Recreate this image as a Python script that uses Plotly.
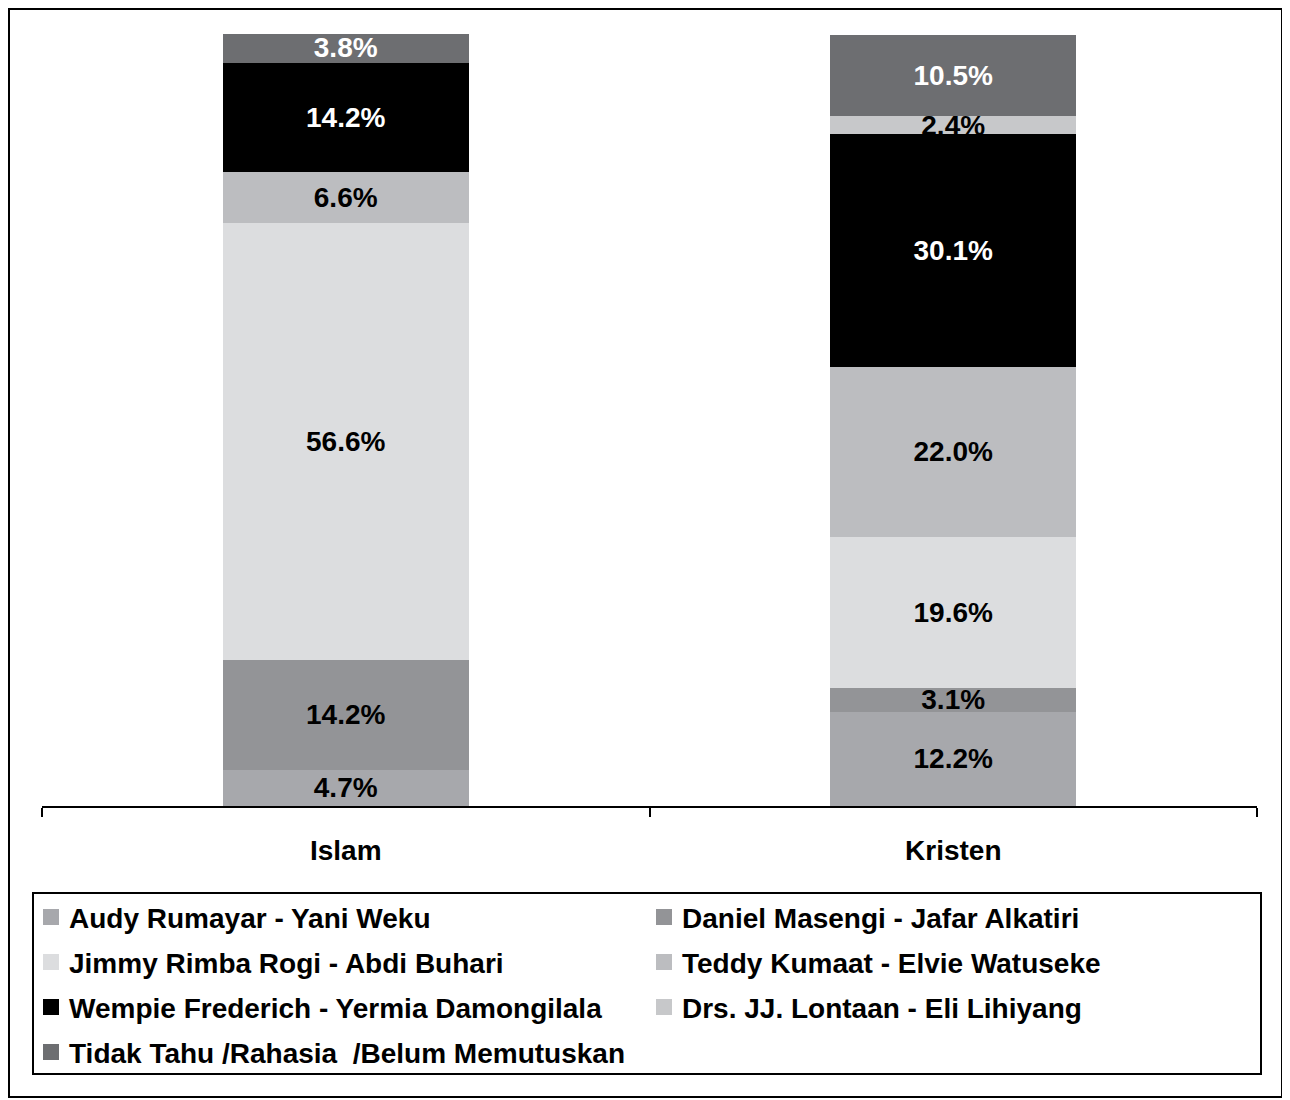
import plotly.graph_objects as go

categories = ["Islam", "Kristen"]
series_names = [
    "Audy Rumayar - Yani Weku",
    "Daniel Masengi - Jafar Alkatiri",
    "Jimmy Rimba Rogi - Abdi Buhari",
    "Teddy Kumaat - Elvie Watuseke",
    "Wempie Frederich - Yermia Damongilala",
    "Drs. JJ. Lontaan - Eli Lihiyang",
    "Tidak Tahu /Rahasia  /Belum Memutuskan",
]
audy = [4.7, 12.2]
daniel = [14.2, 3.1]
jimmy = [56.6, 19.6]
teddy = [6.6, 22.0]
wempie = [14.2, 30.1]
lontaan = [None, 2.4]
tidak = [3.8, 10.5]
series_values = [audy, daniel, jimmy, teddy, wempie, lontaan, tidak]

colors = ["#A7A8AC", "#939497", "#DCDDDF", "#BCBDC0", "#000000", "#C7C8CA", "#6D6E71"]
text_colors = ["black", "black", "black", "black", "white", "black", "white"]

OFF = 8  # page body margin
W, H = 1290 - OFF, 1100 - OFF
L, T = 42 - OFF, 34 - OFF
R = 33
B = H - (806 - OFF)
PW, PH = W - L - R, H - T - B

def px(x):
    return (x - OFF - L) / PW

def py(y):
    return (H - B - (y - OFF)) / PH

FONT = "Arial, Liberation Sans, sans-serif"

fig = go.Figure()
for name, vals, col, tcol in zip(series_names, series_values, colors, text_colors):
    fig.add_trace(go.Bar(
        x=categories, y=vals, name=name,
        marker=dict(color=col, line=dict(width=0)),
        text=["" if v is None else f"{v:.1f}%" for v in vals],
        textposition="inside", insidetextanchor="middle", constraintext="none",
        textfont=dict(family=FONT, size=28, color=tcol, weight="bold"),
        textangle=0,
        showlegend=False,
        cliponaxis=True,
    ))

fig.update_layout(
    width=W, height=H, barmode="stack", bargap=0.595,
    margin=dict(l=L, r=R, t=T, b=B, autoexpand=False),
    paper_bgcolor="white", plot_bgcolor="white",
    uniformtext=dict(minsize=28, mode="show"),
    xaxis=dict(showline=True, linecolor="black", linewidth=2,
               ticks="outside", tickson="boundaries", ticklen=9, tickwidth=2, tickcolor="black",
               tickfont=dict(family=FONT, size=28, color="black", weight="bold"),
               ticklabelstandoff=18, showgrid=False),
    yaxis=dict(range=[0, 100], visible=False, showgrid=False, zeroline=False),
)

shapes = []
annotations = []
# outer figure border (kept inside the drawing area)
shapes.append(dict(type="rect", xref="paper", yref="paper",
                   x0=px(OFF + 1), x1=px(1282), y0=py(OFF + 1), y1=py(1097),
                   line=dict(color="black", width=2), fillcolor="rgba(0,0,0,0)", layer="above"))
# legend box
shapes.append(dict(type="rect", xref="paper", yref="paper",
                   x0=px(33), x1=px(1261), y0=py(893), y1=py(1074),
                   line=dict(color="black", width=2), fillcolor="rgba(0,0,0,0)", layer="above"))
col_x = [43, 656]
row_y = [917, 962, 1007, 1052]
for i, (name, col) in enumerate(zip(series_names, colors)):
    cx = col_x[i % 2]
    cy = row_y[i // 2]
    shapes.append(dict(type="rect", xref="paper", yref="paper",
                       x0=px(cx), x1=px(cx + 16), y0=py(cy - 8), y1=py(cy + 8),
                       line=dict(width=0), fillcolor=col, layer="above"))
    annotations.append(dict(xref="paper", yref="paper", x=px(cx + 24), y=py(cy + 1),
                            xanchor="left", yanchor="middle", showarrow=False,
                            text=name, font=dict(family=FONT, size=28, color="black", weight="bold")))

fig.update_layout(shapes=shapes, annotations=annotations)
fig.write_html("out.html")
